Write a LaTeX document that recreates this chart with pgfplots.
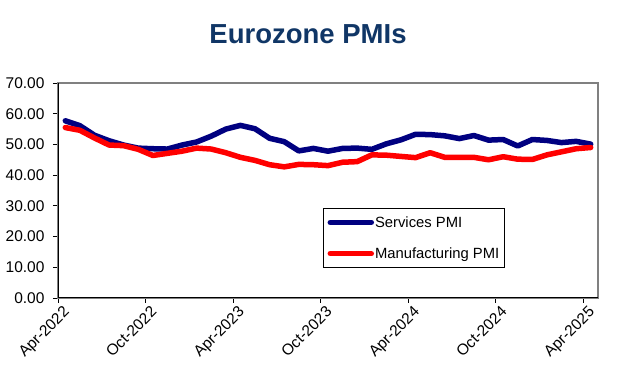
\documentclass[border=0pt]{standalone}
\usepackage{pgfplots}
\pgfplotsset{compat=1.18}
\usepackage{pgfplotstable}
\usepackage{fontspec}
\setmainfont{Liberation Sans}
\definecolor{titleblue}{RGB}{16,54,102}
\definecolor{svc}{RGB}{0,0,128}
\definecolor{mfg}{RGB}{255,0,0}
\pgfplotstableread{
t svc mfg
0.5 57.7 55.5
1.5 56.1 54.6
2.5 53.0 52.1
3.5 51.2 49.8
4.5 49.8 49.6
5.5 48.8 48.4
6.5 48.6 46.4
7.5 48.5 47.1
8.5 49.8 47.8
9.5 50.8 48.8
10.5 52.7 48.5
11.5 55.0 47.3
12.5 56.2 45.8
13.5 55.1 44.8
14.5 52.0 43.4
15.5 50.9 42.7
16.5 47.9 43.5
17.5 48.7 43.4
18.5 47.8 43.1
19.5 48.7 44.2
20.5 48.8 44.4
21.5 48.4 46.6
22.5 50.2 46.5
23.5 51.5 46.1
24.5 53.3 45.7
25.5 53.2 47.3
26.5 52.8 45.8
27.5 51.9 45.8
28.5 52.9 45.8
29.5 51.4 45.0
30.5 51.6 46.0
31.5 49.5 45.2
32.5 51.6 45.1
33.5 51.3 46.6
34.5 50.6 47.6
35.5 51.0 48.6
36.5 50.1 49.0
}\pmi
\begin{document}
\begin{tikzpicture}
\begin{axis}[
  scale only axis,
  width=540pt, height=215pt,
  xmin=0, xmax=37, ymin=0, ymax=70,
  xtick={0,6,12,18,24,30,36},
  xticklabels={Apr-2022,Oct-2022,Apr-2023,Oct-2023,Apr-2024,Oct-2024,Apr-2025},
  ytick={0,10,...,70},
  xtick pos=bottom, ytick pos=left,
  tick align=outside,
  major tick length=5pt,
  tick style={black, line width=0.8pt},
  yticklabel style={/pgf/number format/fixed, /pgf/number format/fixed zerofill, /pgf/number format/precision=2, /pgf/number format/assume math mode=true},
  y tick label style={font=\fontsize{15.5}{18}\selectfont, xshift=-5pt},
  x tick label style={font=\fontsize{15.5}{18}\selectfont, rotate=45, anchor=north east, xshift=5pt, yshift=-1pt},
  axis line style={draw=gray, line width=1.3pt},
  legend style={at={(0.491,0.419)}, anchor=north west, draw=black, line width=0.8pt,
    inner xsep=4pt, inner ysep=7pt, row sep=17pt,
    font=\fontsize{14.8}{17}\selectfont, cells={anchor=west},
    nodes={inner sep=1pt}},
  legend image code/.code={\draw[#1, line width=5.5pt] (0pt,0pt) -- (41pt,0pt);},
]
\addplot[svc, line width=5.5pt, line join=round, line cap=round] table[x=t, y=svc] {\pmi};
\addlegendentry{Services PMI}
\addplot[mfg, line width=5.5pt, line join=round, line cap=round] table[x=t, y=mfg] {\pmi};
\addlegendentry{Manufacturing PMI}
\draw[black, line width=1pt] (rel axis cs:0,1) -- (rel axis cs:0,0) -- (rel axis cs:1,0);
\end{axis}
\node[anchor=base, font=\bfseries\fontsize{27.5}{30}\selectfont, text=titleblue, inner sep=0pt]
  at ([shift={(250pt,254pt)}]current axis.south west) {Eurozone PMIs};
\pgfresetboundingbox
\path[use as bounding box] ([shift={(-58pt,-68pt)}]current axis.south west) rectangle ++(617pt,366pt);
\end{tikzpicture}
\end{document}
